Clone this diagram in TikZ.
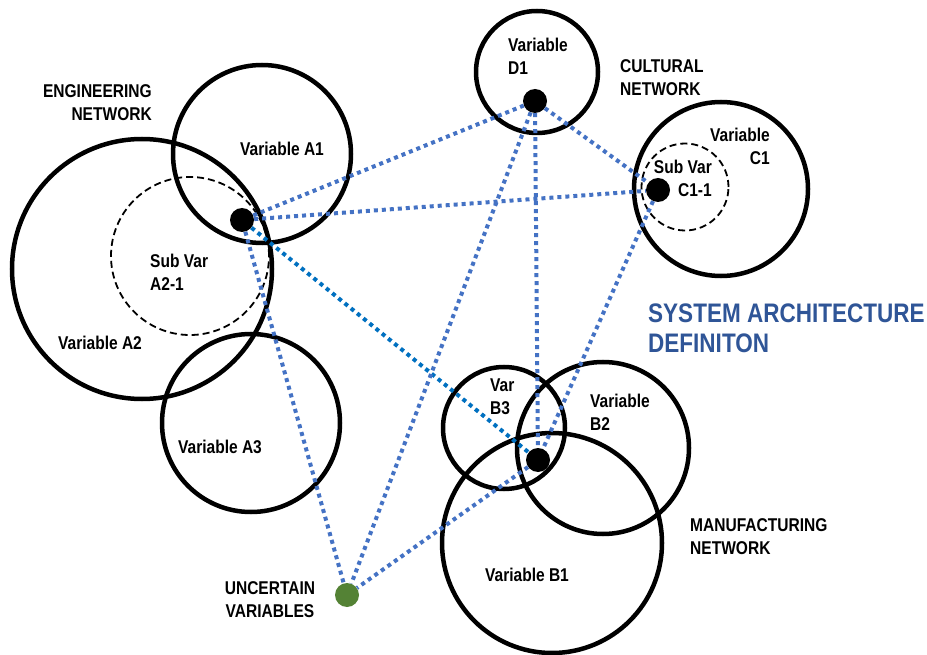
\documentclass[tikz,border=0pt]{standalone}
\usepackage{fontspec}
\setmainfont{Liberation Sans}[FakeStretch=0.84]
\usepackage{tikz}
\usetikzlibrary{calc}
\usetikzlibrary{shapes}

\definecolor{linkblue}{HTML}{4472C4}
\definecolor{linkcyan}{HTML}{0070C0}
\definecolor{titleblue}{HTML}{2F5597}
\definecolor{uncgreen}{HTML}{548235}

\tikzset{
  var/.style={circle, draw=black, line width=4.5pt, inner sep=0pt},
  subvar/.style={circle, draw=black, line width=1.8pt, dash pattern=on 7pt off 4pt, inner sep=0pt},
  hub/.style={circle, fill=black, inner sep=0pt, minimum size=24pt},
  link/.style={draw=linkblue, line width=4pt, dash pattern=on 4pt off 4pt},
  txt/.style={inner sep=0pt, font=\bfseries\fontsize{18.5}{23}\selectfont},
}

\begin{document}
\begin{tikzpicture}[x=1pt, y=-1pt]
\useasboundingbox (0,0) rectangle (927,655);

% circles
\node[var, name=varA1, minimum size=178pt] at (262,154) {};
\node[var, name=varA2, minimum size=260pt] at (142,269) {};
\node[subvar, name=subA21, minimum size=158pt] at (190,256) {};
\node[var, name=varA3, minimum size=178pt] at (251,423) {};
\node[var, name=varD1, minimum size=122pt] at (537,72) {};
\node[var, name=varC1, minimum size=174pt] at (721,189) {};
\node[subvar, name=subC11, minimum size=87pt] at (685,187) {};
\node[var, name=varB3, minimum size=122pt] at (504,428) {};
\node[var, name=varB2, minimum size=172pt] at (603,448) {};
\node[var, name=varB1, minimum size=220pt] at (552,543) {};

% hubs
\node[hub, name=hubA] at (242,220) {};
\node[hub, name=hubD] at (535,101) {};
\node[hub, name=hubC] at (658,190) {};
\node[hub, name=hubB] at (538,460) {};
\node[hub, name=uncertain, fill=uncgreen] at (347,595) {};

% links
\draw[link] (hubA) -- (hubD);
\draw[link] (hubA) -- (hubC);
\draw[link, draw=linkcyan] (hubA) -- (hubB);
\draw[link] (hubA) -- (uncertain);
\draw[link] (hubD) -- (hubC);
\draw[link] (hubD) -- (hubB);
\draw[link] (hubD) -- (uncertain);
\draw[link] (hubC) -- (hubB);
\draw[link] (hubB) -- (uncertain);

% labels
\node[txt, name=lblEng, anchor=east, align=right] at (152,103) {ENGINEERING\\NETWORK};
\node[txt, name=lblCult, anchor=west, align=left] at (620,78) {CULTURAL\\NETWORK};
\node[txt, name=lblManu, anchor=west, align=left] at (690,537) {MANUFACTURING\\NETWORK};
\node[txt, name=lblUnc, align=center] at (270,600) {UNCERTAIN\\VARIABLES};
\node[txt, name=lblSys, anchor=west, align=left, text=titleblue,
  font=\bfseries\fontsize{26.8}{30}\selectfont] at (648,328) {SYSTEM ARCHITECTURE\\DEFINITON};

\node[txt, name=txtA1] at (282,149) {Variable A1};
\node[txt, name=txtA21, anchor=west, align=left] at (150,272) {Sub Var\\A2-1};
\node[txt, name=txtA2] at (100,343) {Variable A2};
\node[txt, name=txtA3] at (220,447) {Variable A3};
\node[txt, name=txtD1, anchor=west, align=left] at (508,56) {Variable\\D1};
\node[txt, name=txtC1, anchor=east, align=right] at (770,146) {Variable\\C1};
\node[txt, name=txtC11, anchor=east, align=right] at (712,178) {Sub Var\\C1-1};
\node[txt, name=txtB3, anchor=west, align=left] at (490,397) {Var\\B3};
\node[txt, name=txtB2, anchor=west, align=left] at (590,412) {Variable\\B2};
\node[txt, name=txtB1] at (527,575) {Variable B1};

\end{tikzpicture}
\end{document}
